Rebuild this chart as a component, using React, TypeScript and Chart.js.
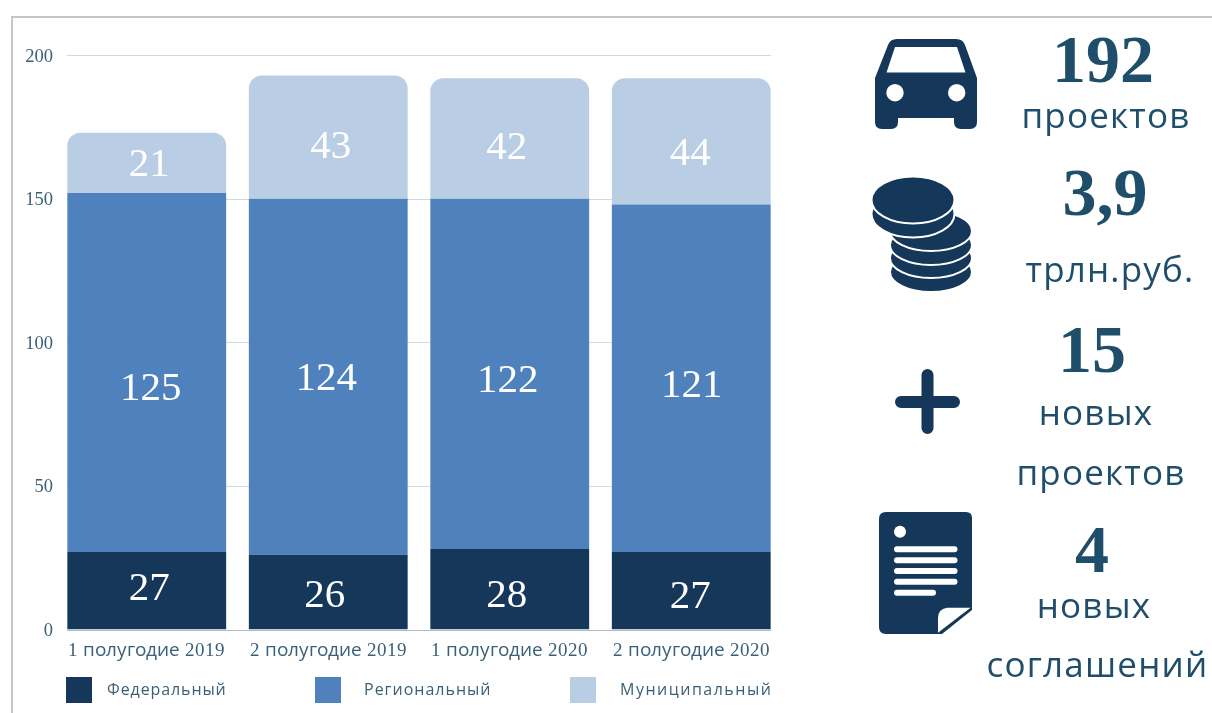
import React, { useEffect, useRef } from "react";
import { Chart, registerables } from "chart.js";

Chart.register(...registerables);

const categories = ["1 полугодие 2019", "2 полугодие 2019", "1 полугодие 2020", "2 полугодие 2020"];
const federal = [27, 26, 28, 27];
const regional = [125, 124, 122, 121];
const municipal = [21, 43, 42, 44];
const seriesNames = ["Федеральный", "Региональный", "Муниципальный"];
const seriesColors = ["#15375a", "#4f81bd", "#b9cde4"];
const yTicksStep = 50;
const yMax = 200;

// Nudges of the value labels relative to the segment centre (px).
const labelNudgesY = [
  [-2, 4, 7, 6],
  [17, 2, 7, 8],
  [2, 10, 10, 13],
];
const labelNudgesX = [
  [2.5, -3.5, -3, -1],
  [4, -2, -2, 0.5],
  [2.5, 2.5, -3, -1],
];

const TEXT = "#1f4e6b";
const TICK = "#3a6079";
const TEXT_FONT = "'Open Sans', 'Noto Sans', sans-serif";

const segmentLabels = {
  id: "segmentLabels",
  afterDatasetsDraw(chart: any) {
    const { ctx } = chart;
    ctx.save();
    ctx.letterSpacing = "0px";
    ctx.fillStyle = "#ffffff";
    ctx.font = "41px 'Liberation Serif'";
    ctx.textAlign = "center";
    ctx.textBaseline = "middle";
    chart.data.datasets.forEach((ds: any, di: number) => {
      chart.getDatasetMeta(di).data.forEach((bar: any, i: number) => {
        const y = (bar.y + bar.base) / 2 + labelNudgesY[di][i];
        ctx.fillText(String(ds.data[i]), bar.x + labelNudgesX[di][i], y);
      });
    });
    ctx.restore();
  },
};

const insetGrid = {
  id: "insetGrid",
  beforeDatasetsDraw(chart: any) {
    const { ctx, chartArea, scales } = chart;
    ctx.save();
    ctx.lineWidth = 1;
    scales.y.ticks.forEach((t: any) => {
      const y = Math.round(scales.y.getPixelForValue(t.value)) + 0.5;
      ctx.strokeStyle = t.value === 0 ? "#a9bccb" : "#d3dade";
      ctx.beginPath();
      ctx.moveTo(chartArea.left + 11, y);
      ctx.lineTo(chartArea.right - 11, y);
      ctx.stroke();
    });
    ctx.restore();
  },
};

const legendX = [
  { box: 66, text: 107, spacing: 0.9 },
  { box: 315, text: 364, spacing: 1.0 },
  { box: 570, text: 620, spacing: 1.5 },
];

const stats = [
  { text: "192", x: 1103, y: 82, bold: true },
  { text: "проектов", x: 1106, y: 128, bold: false },
  { text: "3,9", x: 1105, y: 215, bold: true },
  { text: "трлн.руб.", x: 1110, y: 282, bold: false },
  { text: "15", x: 1092, y: 372, bold: true },
  { text: "новых", x: 1096, y: 425, bold: false },
  { text: "проектов", x: 1101, y: 485, bold: false },
  { text: "4", x: 1092, y: 572, bold: true },
  { text: "новых", x: 1094, y: 618, bold: false },
  { text: "соглашений", x: 1097.5, y: 677, bold: false },
];

const ICON = "#15375a";

function Coins() {
  const lower = [272, 258, 245, 231];
  return (
    <g fill={ICON} stroke="#fff" strokeWidth={2}>
      {lower.map((cy) => (
        <ellipse key={cy} cx={931} cy={cy} rx={41} ry={20} />
      ))}
      <ellipse cx={913} cy={214} rx={41.5} ry={23.5} />
      <ellipse cx={913} cy={200} rx={41.5} ry={23.5} />
    </g>
  );
}

function Icons() {
  return (
    <g>
      <path
        fillRule="evenodd"
        fill={ICON}
        d="M897 39 H956 Q963 39 965 45 L977 78 V122 Q977 129 970 129 H961 Q954 129 954 122 V118 H898 V122 Q898 129 891 129 H882 Q875 129 875 122 V78 L888 45 Q890 39 897 39 Z
           M895 47 L886.5 72.5 H965.5 L957 47 Z
           M886.3 92.7 a8.7 8.7 0 1 0 17.4 0 a8.7 8.7 0 1 0 -17.4 0 Z
           M948 92.7 a8.7 8.7 0 1 0 17.4 0 a8.7 8.7 0 1 0 -17.4 0 Z"
      />
      <Coins />
      <path d="M901 402 H954 M927.5 375 V428" stroke={ICON} strokeWidth={12} strokeLinecap="round" />
      <path fill={ICON} d="M886 512 H966 Q972 512 972 518 V610 L942 634 H886 Q879 634 879 627 V519 Q879 512 886 512 Z" />
      <path fill="#fff" d="M970.5 607.7 H947 Q938 609 938 618 V632.7 Z" />
      <circle cx={900} cy={531.7} r={6} fill="#fff" />
      {[549.3, 560.3, 571, 581.7, 592.7].map((y, i) => (
        <path key={y} d={`M897 ${y} H${i === 4 ? 933 : 954.5}`} stroke="#fff" strokeWidth={6} strokeLinecap="round" />
      ))}
    </g>
  );
}

export default function App() {
  const ref = useRef<HTMLCanvasElement>(null);

  useEffect(() => {
    let chart: Chart | null = null;
    let cancelled = false;
    const digits = new FontFace("TickMix", "local('Liberation Serif')", { unicodeRange: "U+30-39" });
    const letters = new FontFace(
      "TickMix",
      "local('Open Sans Regular'), local('OpenSans-Regular'), local('Open Sans'), local('Noto Sans Regular'), local('NotoSans-Regular'), local('Noto Sans')",
      { unicodeRange: "U+400-4FF" }
    );
    Promise.allSettled([digits.load(), letters.load()]).then(() => {
      if (cancelled || !ref.current) return;
      document.fonts.add(digits);
      document.fonts.add(letters);
      const c2d: any = ref.current.getContext("2d");
      c2d.letterSpacing = "0.35px";
      chart = new Chart(ref.current, {
        type: "bar",
        data: {
          labels: categories,
          datasets: [
            { label: seriesNames[0], data: federal, backgroundColor: seriesColors[0] },
            { label: seriesNames[1], data: regional, backgroundColor: seriesColors[1] },
            {
              label: seriesNames[2],
              data: municipal,
              backgroundColor: seriesColors[2],
              borderRadius: { topLeft: 13, topRight: 13, bottomLeft: 0, bottomRight: 0 },
              borderSkipped: false,
            },
          ],
        },
        options: {
          animation: false,
          responsive: false,
          datasets: { bar: { barPercentage: 0.875, categoryPercentage: 1 } },
          layout: { padding: { top: 55.3, right: 18, bottom: 0, left: 0 } },
          plugins: { legend: { display: false }, tooltip: { enabled: false } },
          scales: {
            x: {
              stacked: true,
              grid: { display: false, drawTicks: false },
              border: { display: false },
              afterFit: (s: any) => { s.height = 83.5; },
              ticks: {
                color: TICK,
                padding: 10,
                maxRotation: 0,
                autoSkip: false,
                font: { family: "TickMix, 'Open Sans'", size: 19 },
              },
            },
            y: {
              stacked: true,
              min: 0,
              max: yMax,
              grid: { display: false, drawTicks: false },
              border: { display: false },
              afterFit: (s: any) => { s.width = 56; },
              ticks: {
                stepSize: yTicksStep,
                color: TICK,
                padding: 3,
                labelOffset: 1.5,
                font: { family: "'Liberation Serif'", size: 18.5 },
              },
            },
          },
        },
        plugins: [insetGrid, segmentLabels],
      } as any);
    });
    return () => {
      cancelled = true;
      chart?.destroy();
    };
  }, []);

  return (
    <div style={{ position: "fixed", left: 0, top: 0, width: 1212, height: 713, overflow: "hidden", background: "#fff" }}>
      <div style={{ position: "absolute", left: 11, top: 16, width: 1300, height: 800, border: "2px solid #c6c6c6" }} />
      <canvas ref={ref} width={800} height={713} style={{ position: "absolute", left: 0, top: 0, width: 800, height: 713 }} />
      <svg width={1212} height={713} style={{ position: "absolute", left: 0, top: 0 }}>
        {seriesNames.map((name, i) => (
          <g key={name}>
            <rect x={legendX[i].box} y={677} width={26} height={26} fill={seriesColors[i]} />
            <text
              x={legendX[i].text}
              y={695}
              fill={TICK}
              fontFamily={TEXT_FONT}
              fontSize={16}
              letterSpacing={legendX[i].spacing}
            >
              {name}
            </text>
          </g>
        ))}
        <Icons />
        {stats.map((s) => (
          <text
            key={s.text + s.y}
            x={s.x}
            y={s.y}
            textAnchor="middle"
            fill={TEXT}
            fontFamily={s.bold ? "'Liberation Serif'" : TEXT_FONT}
            fontWeight={s.bold ? 700 : 400}
            fontSize={s.bold ? 68 : 35}
            letterSpacing={s.bold ? 0 : 1.2}
          >
            {s.text}
          </text>
        ))}
      </svg>
    </div>
  );
}
